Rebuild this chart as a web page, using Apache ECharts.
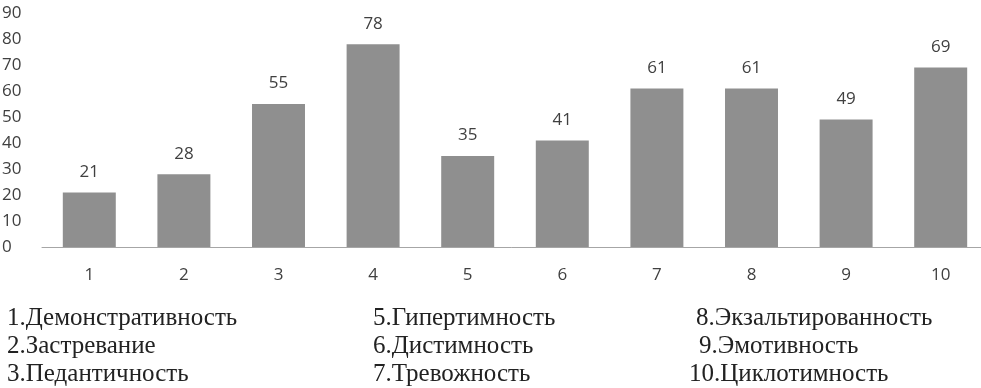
<!DOCTYPE html>
<html>
<head>
<meta charset="utf-8">
<script src="https://cdn.jsdelivr.net/npm/echarts@6/dist/echarts.min.js"></script>
<style>
    html, body { margin: 0; padding: 0; background: #fff; }
    #chart { width: 981px; height: 388px; }
</style>
</head>
<body>
<div id="chart"></div>
<script>
const categories = ['1', '2', '3', '4', '5', '6', '7', '8', '9', '10'];
const values = [21, 28, 55, 78, 35, 41, 61, 61, 49, 69];
const yTicks = { min: 0, max: 90, interval: 10 };

// legend rows below the chart, three columns
const legendCol1 = ['1.Демонстративность', '2.Застревание', '3.Педантичность'];
const legendCol2 = ['5.Гипертимность', '6.Дистимность', '7.Тревожность'];
const legendCol3 = ['8.Экзальтированность', '9.Эмотивность', '10.Циклотимность'];

const chart = echarts.init(document.getElementById('chart'));

function legendTexts(list, xs) {
    return list.map((t, i) => ({
        type: 'text',
        left: xs[i],
        top: 306 + i * 28,
        style: {
            text: t,
            font: '25px "Liberation Serif"',
            fill: '#222222'
        }
    }));
}

const option = {
    animation: false,
    grid: {
        left: 42, top: 13, width: 946, height: 234,
        outerBoundsMode: 'none', containLabel: false
    },
    xAxis: {
        type: 'category',
        data: categories,
        axisLine: { lineStyle: { color: '#a6a6a6', width: 1 } },
        axisTick: { show: false },
        axisLabel: {
            color: '#404040',
            fontFamily: 'Open Sans',
            fontSize: 17,
            margin: 20
        }
    },
    yAxis: {
        type: 'value',
        min: yTicks.min,
        max: yTicks.max,
        interval: yTicks.interval,
        splitLine: { show: false },
        axisLine: { show: false },
        axisTick: { show: false },
        axisLabel: {
            color: '#404040',
            fontFamily: 'Open Sans',
            fontSize: 17,
            align: 'left',
            margin: 40
        }
    },
    series: [{
        type: 'bar',
        data: values,
        barCategoryGap: '44%',
        itemStyle: { color: '#8f8f8f' },
        label: {
            show: true,
            position: 'top',
            distance: 12,
            color: '#404040',
            fontFamily: 'Open Sans',
            fontSize: 17
        }
    }],
    graphic: [
        ...legendTexts(legendCol1, [7, 7, 7]),
        ...legendTexts(legendCol2, [373, 373, 373]),
        ...legendTexts(legendCol3, [696, 699, 689])
    ]
};

chart.setOption(option);
</script>
</body>
</html>
